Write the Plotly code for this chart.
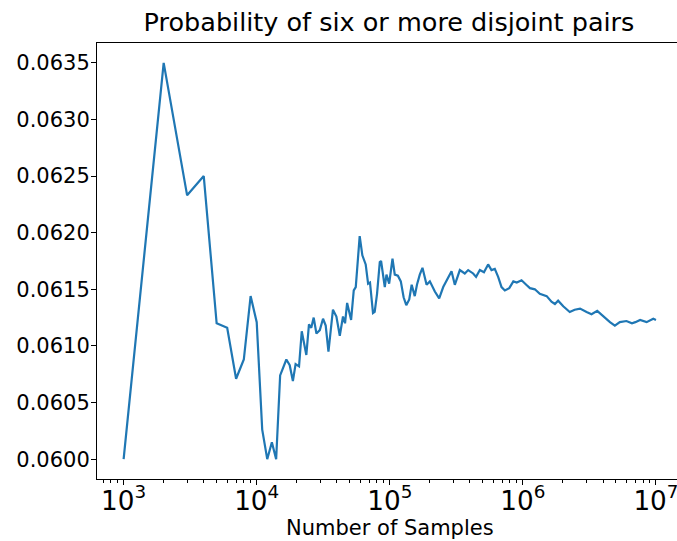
import plotly.graph_objects as go

samples = [1000, 2000, 3000, 4000, 5000, 6000, 7000, 8000, 9000, 10000,
           11000, 12000, 13000, 14000, 15000, 16700, 17700, 18700, 19600, 20800,
           21800, 23600, 24700, 25700, 26800, 28100, 29800, 31500, 33000, 34600,
           37400, 39700, 42100, 44500, 46100, 47800, 51200, 53600, 55500, 59400,
           62200, 65900, 68700, 71000, 74800, 77000, 80200, 84100, 86000, 91700,
           94400, 98900, 104800, 109000, 115000, 121000, 127000, 133000, 140000, 146000,
           154000, 160000, 168000, 176000, 189000, 200000, 218000, 235000, 252000, 274000,
           291000, 308000, 336000, 366000, 388000, 423000, 445000, 475000, 510000, 548000,
           581000, 615000, 652000, 691000, 732000, 790000, 848000, 900000, 977000, 1060000,
           1130000, 1230000, 1340000, 1510000, 1640000, 1740000, 1840000, 2010000, 2250000, 2450000,
           2690000, 3010000, 3280000, 3620000, 4010000, 4510000, 4910000, 5350000, 6000000, 6600000,
           7000000, 7600000, 8500000, 9550000, 10000000]

probability = [0.0600, 0.0635, 0.06233, 0.0625, 0.0612, 0.06116, 0.06071, 0.06088, 0.06144, 0.06121,
               0.06026, 0.0600, 0.06015, 0.0600, 0.06074, 0.06088, 0.06083, 0.06069, 0.06084, 0.06082,
               0.06113, 0.06092, 0.06119, 0.06116, 0.06125, 0.06111, 0.06114, 0.06124, 0.06118, 0.06095,
               0.06132, 0.06126, 0.06109, 0.06126, 0.0612, 0.06138, 0.06123, 0.06149, 0.06152, 0.06197,
               0.0618, 0.06172, 0.06155, 0.06156, 0.06129, 0.0613, 0.06146, 0.06174, 0.06175, 0.06152,
               0.06163, 0.06155, 0.06177, 0.06163, 0.06162, 0.06157, 0.06143, 0.06136, 0.06141, 0.06154,
               0.06144, 0.06154, 0.06163, 0.06169, 0.06154, 0.06157, 0.06148, 0.06142, 0.06152, 0.0616,
               0.06166, 0.06154, 0.06167, 0.06164, 0.06167, 0.06164, 0.06161, 0.06167, 0.06165, 0.06172,
               0.06167, 0.06168, 0.06161, 0.06152, 0.06149, 0.06151, 0.06157, 0.06156, 0.06158, 0.06154,
               0.06151, 0.0615, 0.06146, 0.06144, 0.06139, 0.06137, 0.0614, 0.06135, 0.0613, 0.06132,
               0.06133, 0.0613, 0.06128, 0.06131, 0.06126, 0.06121, 0.06118, 0.06121, 0.06122, 0.0612,
               0.06121, 0.06123, 0.06121, 0.06124, 0.06123]

y_ticks = [0.0600, 0.0605, 0.0610, 0.0615, 0.0620, 0.0625, 0.0630, 0.0635]

FONT = "DejaVu Sans"
TICK_SIZE = 21

fig = go.Figure()
fig.add_trace(go.Scatter(x=samples, y=probability, mode="lines",
                         line=dict(color="#1f77b4", width=2.2), showlegend=False))

fig.update_layout(
    width=677, height=541,
    margin=dict(l=97, r=0, t=42.5, b=62),
    paper_bgcolor="white", plot_bgcolor="white",
    font=dict(family=FONT, size=TICK_SIZE, color="black"),
    title=dict(text="Probability of six or more disjoint pairs",
               x=389 / 677, xref="container", xanchor="center",
               y=1 - 22 / 541, yref="container", yanchor="middle",
               font=dict(family=FONT, size=25.5, color="black")),
    annotations=[dict(text="Number of Samples", xref="paper", yref="paper",
                      x=(390 - 97) / 580, y=-(528 - 479) / 436.5,
                      xanchor="center", yanchor="middle", showarrow=False,
                      font=dict(family=FONT, size=TICK_SIZE, color="black"))],
)

fig.update_xaxes(
    type="log", range=[2.8, 7.158], automargin=False,
    dtick=1, exponentformat="power", showexponent="all",
    ticks="outside", ticklen=5, tickwidth=1.1, tickcolor="black",
    ticklabelstandoff=-6, ticklabeloverflow="allow",
    showline=True, linecolor="black", linewidth=1.1, mirror=True,
    showgrid=False, zeroline=False,
    tickfont=dict(family=FONT, size=TICK_SIZE, color="black"),
    minor=dict(ticks="outside", ticklen=3, tickwidth=0.8, tickcolor="black",
               dtick="D1", showgrid=False),
)

fig.update_yaxes(
    range=[0.059825, 0.063675], automargin=False,
    tickvals=y_ticks, tickformat=".4f",
    ticks="outside", ticklen=5, tickwidth=1.1, tickcolor="black",
    ticklabelstandoff=-3,
    showline=True, linecolor="black", linewidth=1.1, mirror=False,
    showgrid=False, zeroline=False,
    tickfont=dict(family=FONT, size=TICK_SIZE, color="black"),
)

fig.write_html("out.html",
               config={"displayModeBar": False},
               post_script="document.body.style.margin='0';"
                           "document.body.style.overflow='hidden';")
